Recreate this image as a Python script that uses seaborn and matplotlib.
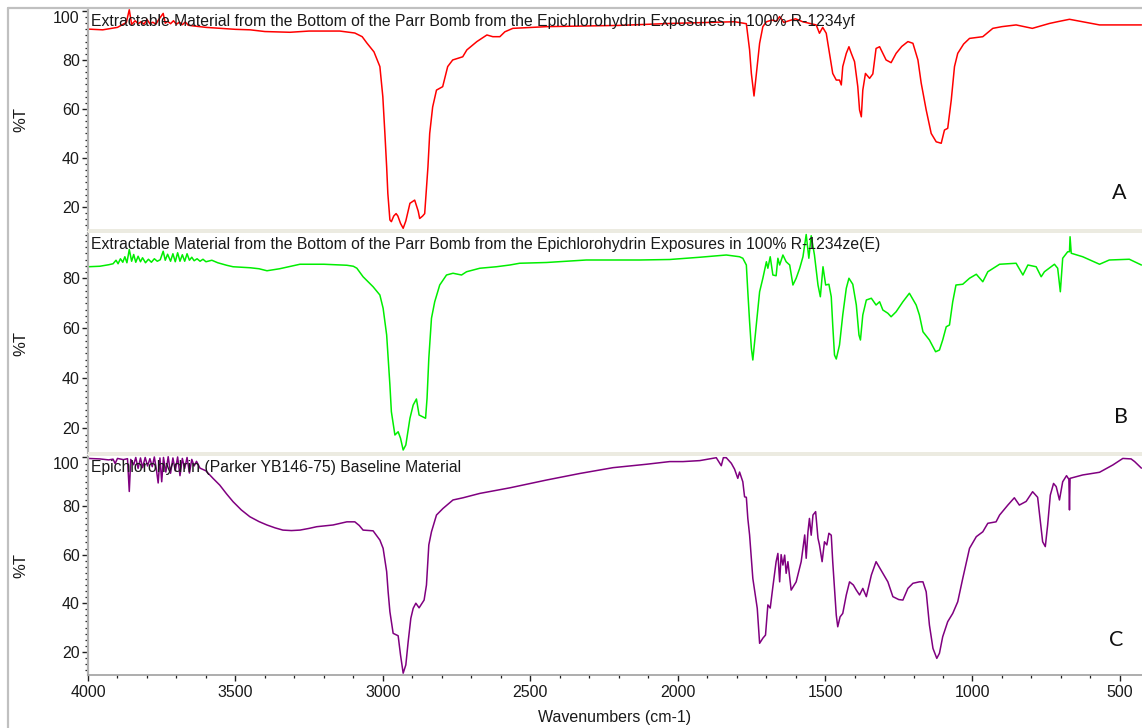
import matplotlib
matplotlib.use("Agg")
import matplotlib.pyplot as plt
from matplotlib.patches import Rectangle
from matplotlib.lines import Line2D
from matplotlib.ticker import MultipleLocator, FixedLocator
import pandas as pd
import seaborn as sns

# ---------------------------------------------------------------------------
# FTIR spectra: (wavenumber cm-1, %T)
# ---------------------------------------------------------------------------
SPECTRUM_A = [
    (4000, 92.6), (3950, 92.3), (3900, 93.3), (3870, 95.3), (3860, 100.5),
    (3852, 94.5), (3840, 96.0), (3830, 94.8), (3820, 95.6), (3810, 94.6),
    (3800, 96.5), (3790, 94.8), (3780, 95.4), (3770, 94.6), (3760, 96.5),
    (3745, 99.0), (3738, 95.0), (3730, 95.8), (3720, 94.8), (3710, 96.0),
    (3700, 94.6), (3690, 95.4), (3680, 94.4), (3670, 95.5), (3660, 94.2),
    (3650, 94.0), (3600, 93.3), (3500, 92.5), (3450, 92.3), (3400, 91.6),
    (3315, 91.3), (3250, 91.8), (3146, 91.8), (3095, 91.0), (3070, 89.5),
    (3054, 86.9), (3030, 83.3), (3010, 77.3), (3000, 65.0), (2993, 50.0),
    (2987, 36.3), (2983, 25.5), (2976, 14.7), (2971, 14.0), (2963, 16.3),
    (2955, 17.3), (2949, 16.3), (2940, 13.3), (2931, 11.3), (2922, 14.3),
    (2908, 21.5), (2892, 22.8), (2880, 18.3), (2875, 15.3), (2865, 16.3),
    (2858, 17.3), (2847, 36.3), (2841, 50.0), (2831, 60.8), (2818, 67.7),
    (2797, 69.1), (2780, 77.3), (2763, 80.0), (2729, 81.3), (2715, 84.1),
    (2681, 87.5), (2647, 90.2), (2627, 89.5), (2603, 89.5), (2586, 91.5),
    (2559, 92.9), (2444, 93.6), (2200, 94.1), (2027, 94.9), (1900, 95.3),
    (1807, 95.6), (1767, 94.8), (1756, 84.1), (1750, 74.5), (1741, 65.3),
    (1733, 74.3), (1722, 86.8), (1711, 93.6), (1699, 95.6), (1680, 96.3),
    (1665, 95.8), (1654, 97.7), (1640, 95.3), (1620, 96.1), (1600, 96.8),
    (1576, 95.6), (1530, 94.3), (1519, 90.9), (1508, 93.3), (1496, 90.9),
    (1485, 82.7), (1474, 74.5), (1462, 71.8), (1451, 71.8), (1445, 69.8),
    (1440, 77.3), (1428, 82.7), (1419, 85.4), (1411, 82.7), (1400, 79.3),
    (1389, 69.1), (1383, 59.6), (1377, 56.8), (1372, 67.7), (1363, 74.5),
    (1349, 72.5), (1338, 74.3), (1327, 84.7), (1315, 85.4), (1304, 82.7),
    (1293, 80.0), (1276, 78.9), (1259, 82.7), (1240, 85.5), (1219, 87.5),
    (1202, 86.8), (1185, 80.0), (1174, 70.6), (1157, 59.6), (1140, 50.0),
    (1123, 46.6), (1106, 46.0), (1095, 51.4), (1084, 52.1), (1072, 63.6),
    (1061, 77.3), (1050, 82.7), (1030, 86.5), (1010, 88.8), (965, 89.5),
    (931, 92.9), (900, 93.6), (852, 94.3), (797, 92.9), (739, 94.9),
    (712, 95.6), (671, 96.6), (627, 95.6), (569, 94.3), (427, 94.3),
]

SPECTRUM_B = [
    (4000, 84.6), (3960, 84.8), (3930, 85.4), (3915, 85.8), (3905, 87.2),
    (3898, 85.8), (3890, 87.8), (3882, 86.4), (3875, 88.6), (3868, 86.2),
    (3860, 91.5), (3852, 86.8), (3845, 89.5), (3838, 86.4), (3830, 88.8),
    (3822, 86.6), (3815, 88.2), (3805, 86.2), (3795, 87.6), (3785, 86.4),
    (3775, 87.8), (3765, 86.8), (3755, 87.4), (3745, 90.8), (3738, 87.2),
    (3730, 89.6), (3720, 86.8), (3712, 89.8), (3704, 86.6), (3696, 90.2),
    (3688, 86.8), (3680, 89.4), (3672, 86.8), (3664, 89.8), (3656, 87.2),
    (3648, 88.4), (3640, 87.0), (3630, 87.8), (3620, 86.8), (3610, 87.6),
    (3600, 86.6), (3580, 87.2), (3560, 86.2), (3530, 85.2), (3508, 84.6),
    (3450, 84.2), (3420, 83.8), (3393, 83.0), (3350, 83.8), (3281, 85.6),
    (3200, 85.6), (3122, 85.2), (3100, 84.8), (3088, 84.0), (3067, 80.6),
    (3033, 76.6), (3010, 73.3), (2999, 68.0), (2987, 57.3), (2982, 48.0),
    (2976, 37.3), (2971, 26.6), (2959, 17.3), (2948, 18.6), (2940, 16.0),
    (2931, 11.3), (2922, 13.3), (2908, 24.0), (2897, 29.3), (2886, 31.7),
    (2877, 25.3), (2865, 24.6), (2855, 24.0), (2850, 32.0), (2844, 48.0),
    (2835, 64.0), (2824, 70.6), (2807, 77.3), (2784, 81.3), (2762, 82.0),
    (2733, 81.3), (2716, 82.6), (2671, 84.0), (2615, 84.6), (2569, 85.3),
    (2536, 86.0), (2445, 86.3), (2310, 87.3), (2129, 87.3), (2027, 87.5),
    (1925, 88.4), (1835, 89.3), (1790, 88.6), (1779, 88.0), (1767, 85.3),
    (1762, 74.6), (1756, 62.6), (1750, 52.0), (1745, 47.3), (1739, 54.6),
    (1731, 64.0), (1722, 74.6), (1711, 80.0), (1699, 86.6), (1694, 84.0),
    (1686, 88.6), (1677, 81.3), (1666, 81.0), (1660, 88.0), (1654, 85.3),
    (1643, 89.3), (1632, 86.6), (1620, 85.3), (1609, 77.3), (1598, 80.0),
    (1586, 84.0), (1575, 88.6), (1564, 97.5), (1555, 88.0), (1547, 97.0),
    (1536, 89.3), (1524, 77.3), (1516, 72.6), (1507, 84.6), (1498, 77.3),
    (1487, 77.6), (1479, 72.6), (1474, 61.3), (1468, 49.3), (1462, 47.7),
    (1451, 53.3), (1440, 65.3), (1428, 76.0), (1419, 80.0), (1406, 77.6),
    (1394, 69.3), (1385, 57.3), (1380, 55.3), (1372, 65.3), (1360, 71.3),
    (1343, 72.0), (1327, 69.3), (1315, 70.6), (1304, 67.3), (1287, 66.0),
    (1276, 64.6), (1259, 66.6), (1236, 70.6), (1214, 74.0), (1191, 69.3),
    (1180, 65.3), (1168, 58.6), (1146, 55.3), (1125, 50.6), (1112, 51.3),
    (1101, 55.3), (1089, 60.6), (1078, 61.3), (1067, 70.6), (1056, 77.3),
    (1033, 77.6), (1010, 80.0), (987, 81.6), (965, 78.6), (948, 82.6),
    (908, 85.6), (852, 86.0), (829, 81.3), (812, 85.3), (784, 84.6),
    (767, 80.6), (756, 82.6), (722, 85.6), (711, 84.0), (702, 74.6),
    (694, 88.0), (677, 90.6), (671, 90.6), (669, 96.6), (665, 90.0),
    (626, 88.6), (569, 85.6), (536, 87.3), (468, 87.6), (427, 85.3),
]

SPECTRUM_C = [
    (4000, 99.6), (3960, 99.4), (3930, 99.0), (3915, 99.3), (3908, 97.5),
    (3900, 99.6), (3880, 99.1), (3866, 99.5), (3860, 86.0), (3855, 99.2),
    (3845, 97.0), (3838, 100.0), (3830, 95.5), (3822, 99.8), (3815, 95.8),
    (3806, 100.0), (3798, 96.5), (3790, 99.5), (3782, 96.2), (3775, 100.2),
    (3768, 95.0), (3762, 89.5), (3756, 99.8), (3750, 90.0), (3744, 100.0),
    (3736, 94.0), (3728, 100.3), (3720, 93.5), (3712, 99.8), (3704, 94.5),
    (3696, 100.2), (3688, 92.5), (3680, 99.6), (3672, 95.5), (3664, 100.0),
    (3656, 93.6), (3648, 99.2), (3640, 96.5), (3632, 98.4), (3620, 95.6),
    (3600, 94.5), (3576, 91.4), (3553, 88.6), (3530, 85.0), (3508, 81.8),
    (3480, 78.4), (3451, 75.6), (3420, 73.6), (3393, 72.2), (3365, 71.0),
    (3339, 70.1), (3310, 69.9), (3281, 70.1), (3250, 70.8), (3224, 71.5),
    (3169, 72.2), (3140, 73.0), (3122, 73.5), (3095, 73.5), (3080, 72.0),
    (3067, 70.1), (3033, 69.8), (3010, 66.0), (2999, 62.6), (2987, 53.0),
    (2982, 44.7), (2976, 36.5), (2965, 27.6), (2948, 26.6), (2940, 18.7),
    (2931, 11.2), (2922, 14.6), (2914, 24.2), (2905, 33.8), (2897, 37.9),
    (2888, 40.0), (2877, 38.1), (2860, 41.3), (2852, 47.5), (2844, 64.0),
    (2835, 69.4), (2818, 76.3), (2796, 79.0), (2762, 82.5), (2728, 83.4),
    (2671, 85.2), (2569, 87.5), (2445, 90.7), (2332, 93.4), (2219, 95.8),
    (2106, 97.2), (2027, 98.3), (1982, 98.3), (1925, 98.7), (1869, 99.9),
    (1852, 96.6), (1845, 99.9), (1835, 99.9), (1818, 97.6), (1807, 95.2),
    (1796, 91.4), (1790, 94.0), (1779, 90.0), (1773, 83.8), (1767, 83.6),
    (1762, 74.9), (1756, 68.1), (1745, 50.2), (1733, 40.6), (1730, 37.9),
    (1722, 23.5), (1711, 25.6), (1702, 26.9), (1694, 39.3), (1686, 38.0),
    (1677, 46.8), (1666, 57.1), (1660, 60.5), (1654, 48.8), (1649, 60.0),
    (1643, 55.7), (1637, 59.8), (1632, 52.3), (1626, 57.1), (1615, 45.4),
    (1598, 48.8), (1581, 57.1), (1569, 68.1), (1564, 58.5), (1558, 69.4),
    (1553, 74.9), (1547, 68.0), (1541, 76.3), (1532, 77.7), (1524, 66.7),
    (1519, 64.0), (1510, 57.1), (1502, 65.3), (1494, 64.0), (1487, 68.8),
    (1479, 68.0), (1474, 57.1), (1468, 46.1), (1462, 35.1), (1457, 30.3),
    (1449, 34.4), (1440, 35.8), (1428, 43.4), (1417, 48.8), (1404, 47.5),
    (1394, 45.4), (1383, 43.4), (1372, 46.1), (1360, 42.7), (1343, 51.6),
    (1327, 57.1), (1304, 52.3), (1287, 48.8), (1270, 42.7), (1250, 41.5),
    (1236, 41.3), (1219, 46.1), (1202, 48.2), (1180, 48.8), (1168, 48.8),
    (1157, 44.7), (1146, 31.0), (1134, 21.4), (1121, 17.3), (1112, 19.4),
    (1101, 26.2), (1084, 32.4), (1067, 35.8), (1050, 40.6), (1033, 50.2),
    (1010, 62.6), (987, 67.4), (965, 69.4), (948, 72.9), (920, 73.5),
    (908, 76.3), (880, 80.4), (858, 83.4), (841, 80.4), (818, 81.9),
    (796, 85.9), (779, 83.6), (771, 74.9), (762, 65.3), (753, 63.3),
    (745, 72.2), (736, 84.5), (725, 89.3), (716, 88.0), (705, 82.5),
    (694, 90.0), (681, 92.5), (673, 91.0), (671, 78.4), (669, 91.4),
    (626, 92.8), (569, 93.9), (524, 96.9), (490, 99.6), (462, 99.4),
    (450, 98.3), (427, 95.6),
]

TITLES = [
    "Extractable Material from the Bottom of the Parr Bomb from the "
    "Epichlorohydrin Exposures in 100% R-1234yf",
    "Extractable Material from the Bottom of the Parr Bomb from the "
    "Epichlorohydrin Exposures in 100% R-1234ze(E)",
    "Epichlorohydrin (Parker YB146-75) Baseline Material",
]
PANEL_LETTERS = ["A", "B", "C"]
COLORS = ["#ff0000", "#00ee00", "#800080"]
Y_LIMITS = [(10.6, 100.8), (10.1, 98.1), (10.45, 100.6)]
Y_TICKS = [[20, 40, 60, 80, 100], [20, 40, 60, 80], [20, 40, 60, 80, 100]]
X_TICKS = [4000, 3500, 3000, 2500, 2000, 1500, 1000, 500]
X_LIMITS = (4000, 425)

# ---------------------------------------------------------------------------
sns.set_theme(style="white")
plt.rcParams["font.family"] = ["Liberation Sans", "DejaVu Sans"]
plt.rcParams["axes.linewidth"] = 1.0

W, H = 1142, 728
fig = plt.figure(figsize=(W / 100, H / 100), dpi=100)
fig.patch.set_facecolor("white")


def fx(px):
    return px / W


def fy(py):
    return 1 - py / H


# panel extents in pixels (top, bottom)
panel_px = [(9, 230), (233, 453), (456, 675)]
left_px = 88

axes = []
for top, bot in panel_px:
    ax = fig.add_axes([fx(left_px), fy(bot), 1 - fx(left_px), (bot - top) / H])
    axes.append(ax)

spectra = [SPECTRUM_A, SPECTRUM_B, SPECTRUM_C]
for i, ax in enumerate(axes):
    df = pd.DataFrame(spectra[i], columns=["wavenumber", "T"])
    sns.lineplot(data=df, x="wavenumber", y="T", ax=ax, color=COLORS[i],
                 linewidth=1.1, estimator=None, sort=False)
    ax.set_xlim(*X_LIMITS)
    ax.set_ylim(*Y_LIMITS[i])
    ax.set_facecolor("white")
    for s in ["top", "right", "bottom"]:
        ax.spines[s].set_visible(False)
    ax.spines["left"].set_color("#b0b0b0")
    ax.spines["left"].set_linewidth(1.6)
    ax.yaxis.set_major_locator(FixedLocator(Y_TICKS[i]))
    ax.yaxis.set_minor_locator(MultipleLocator(2.5))
    ax.tick_params(axis="y", which="major", direction="out", length=4.5,
                   width=1.0, color="#202020", labelsize=11.5, pad=1.5,
                   labelcolor="#1a1a1a", left=True)
    ax.tick_params(axis="y", which="minor", direction="out", length=2.5,
                   width=0.9, color="#202020", left=True)
    ax.set_ylabel("")
    ax.set_xlabel("")
    if i < 2:
        ax.tick_params(axis="x", which="both", bottom=False, labelbottom=False)
    ax.yaxis.set_ticklabels([str(v) for v in Y_TICKS[i]])
    # keep the top label "100" inside the panel
    if Y_TICKS[i][-1] == 100:
        ax.yaxis.get_major_ticks()[-1].label1.set_verticalalignment("top")

# bottom axis
axc = axes[2]
axc.spines["bottom"].set_visible(True)
axc.spines["bottom"].set_color("#a0a0a0")
axc.spines["bottom"].set_linewidth(1.2)
axc.xaxis.set_major_locator(FixedLocator(X_TICKS))
axc.xaxis.set_minor_locator(MultipleLocator(100))
axc.tick_params(axis="x", which="major", direction="out", length=4.5,
                width=1.0, color="#202020", labelsize=11.5, pad=3,
                labelcolor="#1a1a1a", bottom=True)
axc.tick_params(axis="x", which="minor", direction="out", length=2.5,
                width=0.9, color="#202020", bottom=True)
axc.set_xlabel("Wavenumbers (cm-1)", fontsize=11.5, color="#1a1a1a",
               labelpad=7)

# beige separators between panels
for (y0, y1) in [(229, 233), (452, 456)]:
    fig.add_artist(Rectangle((fx(left_px), fy(y1)), 1 - fx(left_px),
                             (y1 - y0) / H, transform=fig.transFigure,
                             facecolor="#ecebe1", edgecolor="none", zorder=5))

# outer frame (top and left edges)
fig.add_artist(Line2D([fx(8), fx(8)], [0, fy(8)], transform=fig.transFigure,
                      color="#c0c0c0", linewidth=1.6, zorder=6))
fig.add_artist(Line2D([fx(8), 1], [fy(8), fy(8)], transform=fig.transFigure,
                      color="#c0c0c0", linewidth=1.6, zorder=6))

# panel annotations
title_tops = [14, 237, 460]
for i, (top, bot) in enumerate(panel_px):
    fig.text(fx(91), fy(title_tops[i]), TITLES[i], ha="left", va="top",
             fontsize=11.3, color="#1a1a1a")
    fig.text(fx(21), fy((top + bot) / 2), "%T", rotation=90, ha="center",
             va="center", fontsize=12, color="#1a1a1a")

letter_pos = [(1119, 193), (1121, 417), (1116, 640)]
for letter, (px, py) in zip(PANEL_LETTERS, letter_pos):
    fig.text(fx(px), fy(py), letter, ha="center", va="center", fontsize=15.5,
             color="#111111", family=["Lato", "DejaVu Sans"])

fig.savefig("out.png", dpi=100, facecolor="white")
